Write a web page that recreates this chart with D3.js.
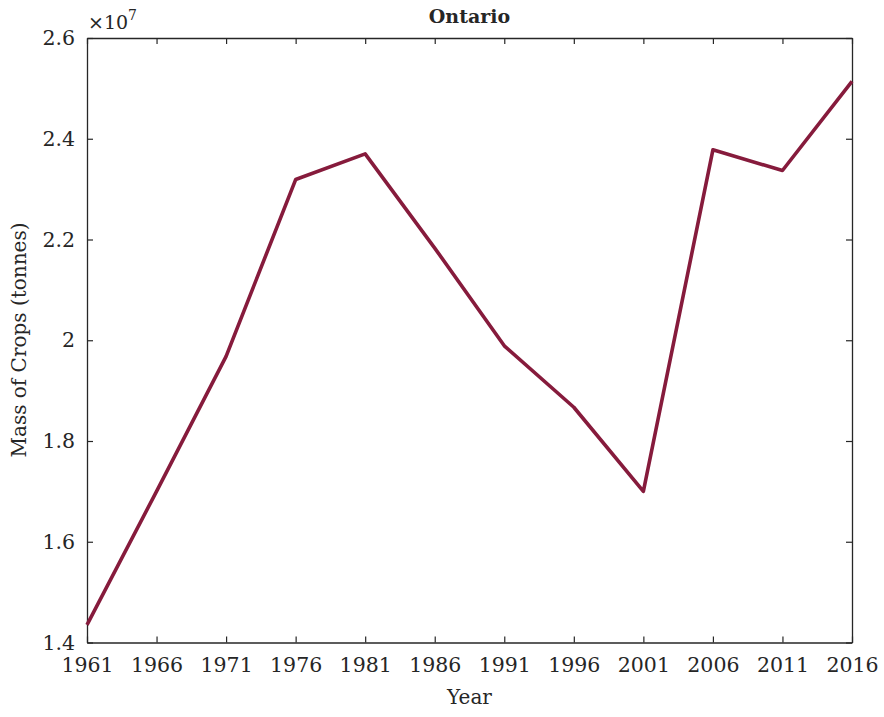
<!DOCTYPE html>
<html>
<head>
<meta charset="utf-8">
<script src="https://cdn.jsdelivr.net/npm/d3@7"></script>
<style>
  html, body { margin: 0; padding: 0; background: #ffffff; }
  svg { display: block; }
  text { font-family: "DejaVu Serif", "Liberation Serif", serif; fill: #262626; }
</style>
</head>
<body>
<svg id="chart" width="884" height="717"></svg>
<script>
// Census years and crop mass for Ontario (in units of 1e7 tonnes)
const years = [1961, 1966, 1971, 1976, 1981, 1986, 1991, 1996, 2001, 2006, 2011, 2016];
const massE7 = [1.435, 1.70, 1.968, 2.319, 2.370, 2.183, 1.989, 1.867, 1.700, 2.378, 2.337, 2.514];
const yTicks = [1.4, 1.6, 1.8, 2.0, 2.2, 2.4, 2.6];
const titleText = "Ontario";
const xLabel = "Year";
const yLabel = "Mass of Crops (tonnes)";

const svg = d3.select("#chart");
const m = { left: 87, right: 852, top: 38, bottom: 642.5 };
const ink = "#262626";
const fontFamily = '"DejaVu Serif", "Liberation Serif", serif';

const x = d3.scaleLinear().domain([1961, 2016]).range([m.left, m.right]);
const y = d3.scaleLinear().domain([1.4, 2.6]).range([m.bottom, m.top]);

const fmt = d => String(+d.toFixed(1));

// Bottom axis with labels, inward ticks
const gx = svg.append("g").attr("transform", `translate(0,${m.bottom})`)
  .call(d3.axisBottom(x).tickValues(years).tickFormat(d3.format("d")).tickSizeInner(-6).tickSizeOuter(0).tickPadding(14.5));
// Left axis with labels
const gy = svg.append("g").attr("transform", `translate(${m.left},0)`)
  .call(d3.axisLeft(y).tickValues(yTicks).tickFormat(fmt).tickSizeInner(-6).tickSizeOuter(0).tickPadding(12));
// Top and right mirror ticks
const gt = svg.append("g").attr("transform", `translate(0,${m.top})`)
  .call(d3.axisTop(x).tickValues(years).tickFormat("").tickSizeInner(-6).tickSizeOuter(0));
const gr = svg.append("g").attr("transform", `translate(${m.right},0)`)
  .call(d3.axisRight(y).tickValues(yTicks).tickFormat("").tickSizeInner(-6).tickSizeOuter(0));

[gx, gy, gt, gr].forEach(g => {
  g.selectAll(".domain").attr("stroke", ink).attr("stroke-width", 1.3);
  g.selectAll(".tick line").attr("stroke", ink).attr("stroke-width", 1.2);
  g.selectAll(".tick text").attr("font-size", 20.5).attr("fill", "#3a3a3a")
    .style("font-family", fontFamily);
});

// Data line
const line = d3.line().x((d, i) => x(years[i])).y(d => y(d));
svg.append("path")
  .datum(massE7)
  .attr("d", line)
  .attr("fill", "none")
  .attr("stroke", "#861b3c")
  .attr("stroke-width", 3.6)
  .attr("stroke-linejoin", "round");

// Exponent multiplier
const mult = svg.append("text").attr("x", m.left + 1).attr("y", 29).attr("font-size", 19).attr("fill", "#3a3a3a");
mult.append("tspan").text("\u00d710");
mult.append("tspan").attr("dy", -9).attr("font-size", 14).text("7");

// Title
svg.append("text").attr("x", (m.left + m.right) / 2).attr("y", 23)
  .attr("text-anchor", "middle").attr("font-size", 19).attr("font-weight", "bold")
  .attr("fill", "#000").text(titleText);

// Axis titles
svg.append("text").attr("x", (m.left + m.right) / 2).attr("y", 704)
  .attr("text-anchor", "middle").attr("font-size", 20).attr("fill", "#3a3a3a").text(xLabel);
svg.append("text")
  .attr("transform", `translate(26,340) rotate(-90)`)
  .attr("text-anchor", "middle").attr("font-size", 20).attr("fill", "#3a3a3a").text(yLabel);
</script>
</body>
</html>
